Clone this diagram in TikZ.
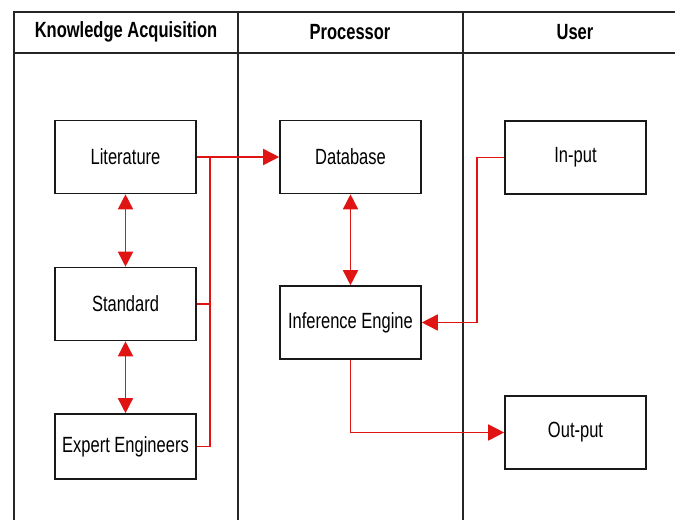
\documentclass[tikz,border=0pt]{standalone}
\usepackage{fontspec}
\setmainfont{Liberation Sans}
\newfontfamily\narrowfont[FakeStretch=0.75]{Liberation Sans}
\usetikzlibrary{arrows.meta}
\definecolor{linered}{RGB}{225,20,20}
\tikzset{
  frameline/.style={draw=black!85, line width=1.4pt},
  boxnode/.style={draw=black!90, line width=1.6pt, fill=white, minimum width=141pt, minimum height=73pt, inner sep=0pt, font=\narrowfont\fontsize{22}{26}\selectfont},
  headnode/.style={font=\narrowfont\bfseries\fontsize{22}{26}\selectfont},
  redline/.style={draw=linered, line width=1.6pt},
  redarrow/.style={redline, -{Triangle[length=16pt,width=16pt]}},
  reddouble/.style={redline, {Triangle[length=15pt,width=15pt]}-{Triangle[length=15pt,width=15pt]}}
}
\begin{document}
\begin{tikzpicture}[x=1pt,y=-1pt]
\useasboundingbox[fill=white] (0,0) rectangle (675,520);
% frame
\coordinate (tl) at (14,12);
\coordinate (tr) at (675,12);
\coordinate (bl) at (14,520);
\coordinate (hl) at (14,53);
\coordinate (hr) at (675,53);
\coordinate (d1t) at (238,12);
\coordinate (d1b) at (238,520);
\coordinate (d2t) at (463,12);
\coordinate (d2b) at (463,520);
\draw[frameline] (bl) -- (tl) -- (tr);
\draw[frameline] (hl) -- (hr);
\draw[frameline] (d1t) -- (d1b);
\draw[frameline] (d2t) -- (d2b);
% headers
\node[headnode] (h1) at (126,32) {Knowledge Acquisition};
\node[headnode] (h2) at (350,32) {Processor};
\node[headnode] (h3) at (575,32) {User};
% boxes
\node[boxnode] (lit) at (125.5,157) {Literature};
\node[boxnode] (std) at (125.5,304) {Standard};
\node[boxnode, minimum height=65pt] (exp) at (125.5,446.5) {Expert Engineers};
\node[boxnode] (db) at (350.5,157) {Database};
\node[boxnode] (inf) at (350.5,322.5) {Inference Engine};
\node[boxnode] (inp) at (575.5,157.5) {In-put};
\node[boxnode] (out) at (575.5,432.5) {Out-put};
% connectors
\coordinate (j) at (210,157);
\draw[redarrow] (lit.east) -- (db.west);
\draw[redline] (std.east) -| (j);
\draw[redline] (exp.east) -| (j);
\draw[reddouble] (lit.south) -- (std.north);
\draw[reddouble] (std.south) -- (exp.north);
\draw[reddouble] (db.south) -- (inf.north);
\coordinate (k) at (477,157.5);
\draw[redarrow] (inp.west) -- (k) |- (inf.east);
\draw[redarrow] (inf.south) |- (out.west);
\end{tikzpicture}
\end{document}
